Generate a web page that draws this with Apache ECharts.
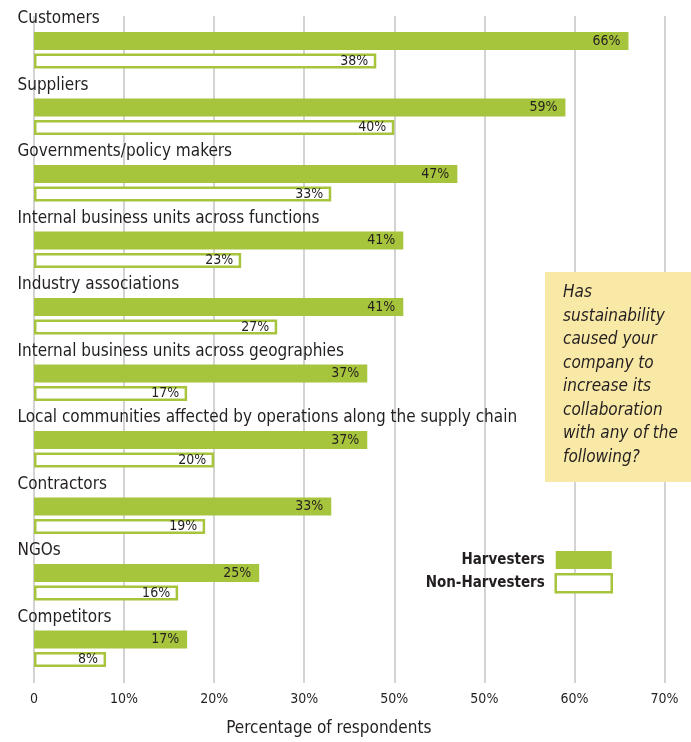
<!DOCTYPE html>
<html>
<head>
<meta charset="utf-8">
<script src="https://cdn.jsdelivr.net/npm/echarts@6/dist/echarts.min.js"></script>
<style>
  html, body { margin: 0; padding: 0; background: #fff; }
  #main { width: 691px; height: 742px; }
</style>
</head>
<body>
<div id="main"></div>
<script>
// data
const categories = [
  'Customers',
  'Suppliers',
  'Governments/policy makers',
  'Internal business units across functions',
  'Industry associations',
  'Internal business units across geographies',
  'Local communities affected by operations along the supply chain',
  'Contractors',
  'NGOs',
  'Competitors'
];
const harvesters = [66, 59, 47, 41, 41, 37, 37, 33, 25, 17];
const nonHarvesters = [38, 40, 33, 23, 27, 17, 20, 19, 16, 8];
// tick labels as printed (the original repeats 50%)
const tickLabels = ['0', '10%', '20%', '30%', '50%', '50%', '60%', '70%'];

const green = '#a6c43c';
const ink = '#231f20';
const font = '"Liberation Sans Narrow", "DejaVu Sans Condensed", sans-serif';

const chart = echarts.init(document.getElementById('main'));

const valueLabel = {
  show: true, position: 'insideRight', distance: 8,
  formatter: p => p.value + '%', fontSize: 14, color: ink, fontFamily: font
};

const option = {
  animation: false,
  textStyle: { fontFamily: font, color: ink },
  grid: [
    { left: 34, right: 26.5, top: 17, height: 665 },   // bars
    { left: 34, right: 26.5, top: 16, bottom: 55 }     // gridlines + ticks
  ],
  xAxis: [
    {
      gridIndex: 0, type: 'value', min: 0, max: 70, interval: 10,
      axisLine: { show: false }, axisTick: { show: false },
      axisLabel: { show: false }, splitLine: { show: false }
    },
    {
      gridIndex: 1, type: 'value', min: 0, max: 70, interval: 10,
      axisLine: { show: false }, axisTick: { show: false },
      splitLine: { show: true, lineStyle: { color: '#c4c4c4', width: 1.5 } },
      axisLabel: {
        margin: 9, fontSize: 14, color: ink, fontFamily: font,
        formatter: v => tickLabels[Math.round(v / 10)]
      },
      name: 'Percentage of respondents',
      nameLocation: 'middle', nameGap: 37,
      nameTextStyle: { fontSize: 17, color: ink, fontFamily: font, padding: [0, 41, 0, 0] }
    }
  ],
  yAxis: [
    {
      gridIndex: 0, type: 'category', data: categories, inverse: true,
      axisLine: { show: false }, axisTick: { show: false }, splitLine: { show: false },
      axisLabel: { show: false }
    },
    { gridIndex: 1, type: 'value', show: false }
  ],
  legend: {
    orient: 'vertical', align: 'right',
    right: 78, top: 551, padding: 0,
    icon: 'rect',
    itemWidth: 56, itemHeight: 18, itemGap: 4,
    textStyle: { fontSize: 15, fontWeight: 'bold', color: ink, fontFamily: font, padding: [0, 6, 0, 0] },
    data: [
      { name: 'Harvesters', itemStyle: { color: green, borderWidth: 0 } },
      { name: 'Non-Harvesters', itemStyle: { color: '#fff', borderColor: green, borderWidth: 2.5 } }
    ]
  },
  graphic: [
    {
      type: 'rect', left: 545, top: 272, z: 5,
      shape: { width: 146, height: 210 },
      style: { fill: '#f9e9a7' }
    },
    {
      type: 'text', left: 563, top: 281, z: 6,
      style: {
        text: 'Has\nsustainability\ncaused your\ncompany to\nincrease its\ncollaboration\nwith any of the\nfollowing?',
        font: 'italic 17px ' + font,
        fill: ink, lineHeight: 23.5
      }
    }
  ],
  series: [
    {
      name: 'Harvesters', type: 'bar', xAxisIndex: 0, yAxisIndex: 0,
      data: harvesters, barWidth: 18, barGap: '20%',
      itemStyle: { color: green },
      label: valueLabel
    },
    {
      name: 'Non-Harvesters', type: 'bar', xAxisIndex: 0, yAxisIndex: 0,
      data: nonHarvesters, barWidth: 15,
      itemStyle: { color: '#fff', borderColor: green, borderWidth: 2.5 },
      label: valueLabel
    },
    {
      // category names sit above each pair of bars
      name: 'names', type: 'scatter', xAxisIndex: 0, yAxisIndex: 0,
      data: categories.map((c, i) => [0, i]),
      symbolSize: 1, itemStyle: { color: 'transparent', opacity: 1 },
      silent: true, z: 10,
      label: {
        show: true, position: [-16, -31], align: 'left', verticalAlign: 'middle',
        formatter: p => categories[p.value[1]],
        fontSize: 17, color: ink, fontFamily: font, opacity: 1
      }
    }
  ]
};

chart.setOption(option);
</script>
</body>
</html>
